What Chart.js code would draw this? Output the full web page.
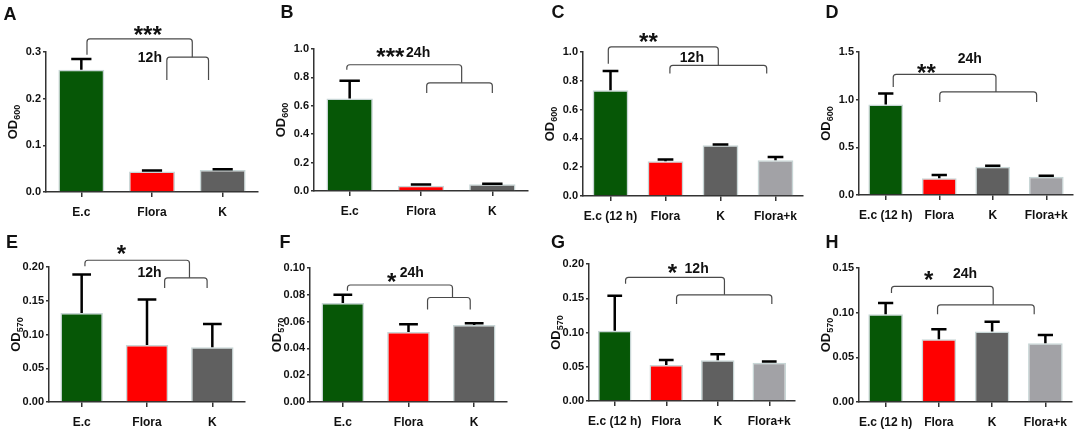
<!DOCTYPE html>
<html lang="en">
<head>
<meta charset="UTF-8">
<title>OD600 / OD570 bar panels</title>
<script src="https://cdn.jsdelivr.net/npm/chart.js@4.4.0/dist/chart.umd.min.js"></script>
<style>
  html, body { margin: 0; padding: 0; background: #fff; }
  #fig { position: relative; width: 1084px; height: 432px; overflow: hidden; }
  #fig canvas { position: absolute; }
</style>
</head>
<body>
<div id="fig"></div>
<script>
// categories
const labels3 = ['E.c', 'Flora', 'K'];
const labels4 = ['E.c (12 h)', 'Flora', 'K', 'Flora+k'];

// OD600 growth (A-D), means and upper error (SEM)
const odA = [0.262, 0.044, 0.047];
const semA = [0.023, 0.002, 0.0015];
const odB = [0.651, 0.037, 0.048];
const semB = [0.125, 0.008, 0.003];
const odC = [0.734, 0.241, 0.352, 0.248];
const semC = [0.134, 0.012, 0.005, 0.023];
const odD = [0.949, 0.175, 0.296, 0.191];
const semD = [0.115, 0.034, 0.011, 0.011];

// OD570 biofilm (E-H)
const odE = [0.132, 0.0845, 0.081];
const semE = [0.057, 0.0675, 0.0346];
const odF = [0.0738, 0.0523, 0.0575];
const semF = [0.0062, 0.0057, 0.0013];
const odG = [0.1025, 0.0527, 0.0596, 0.056];
const semG = [0.0512, 0.0073, 0.0087, 0.0016];
const odH = [0.0983, 0.0702, 0.0788, 0.0657];
const semH = [0.0124, 0.0112, 0.0109, 0.0093];

// y axis ranges: max, step, decimals
const yMaxes = [0.3, 1.0, 1.0, 1.5, 0.20, 0.10, 0.20, 0.15];
const ySteps = [0.1, 0.2, 0.2, 0.5, 0.05, 0.02, 0.05, 0.05];
const yDecimals = [1, 1, 1, 1, 2, 2, 2, 2];

const barColors = ['#065706', '#ff0000', '#606060', '#a2a2a6'];
const edgeColor = '#c8d6d6';
const FONT = '"Liberation Sans", Arial, sans-serif';
const PH = 232;

// bracket = [x1, x2, y, leftLegEnd, rightLegEnd] in category index / data units
const panels = [
  { letter: 'A', x: 0, y: 0, w: 270, box: [46, 258, 52, 192], lab: [10, 15], sub: '600',
    labels: labels3, values: odA, errors: semA,
    brackets: [[0.08, 1.57, 0.328, 0.294, 0.289], [1.21, 1.80, 0.289, 0.24, 0.24]],
    notes: [['***', 0.94, 0.347, 's'], ['12h', 0.97, 0.287, 'l']] },
  { letter: 'B', x: 270, y: 0, w: 270, box: [44, 258, 49, 191], lab: [17, 13], sub: '600',
    labels: labels3, values: odB, errors: semB,
    brackets: [[-0.04, 1.57, 0.889, 0.854, 0.762], [1.08, 2.0, 0.762, 0.69, 0.69]],
    notes: [['***', 0.57, 0.974, 's'], ['24h', 0.96, 0.974, 'l']] },
  { letter: 'C', x: 540, y: 0, w: 270, box: [43, 263, 52, 196], lab: [18, 13], sub: '600',
    labels: labels4, values: odC, errors: semC,
    brackets: [[-0.04, 1.96, 1.035, 0.919, 0.907], [1.08, 2.84, 0.907, 0.85, 0.85]],
    notes: [['**', 0.69, 1.104, 's'], ['12h', 1.48, 0.96, 'l']] },
  { letter: 'D', x: 810, y: 0, w: 274, box: [49, 263, 52, 195], lab: [22, 13], sub: '600',
    labels: labels4, values: odD, errors: semD,
    brackets: [[0.14, 2.06, 1.266, 1.133, 1.081], [1.01, 2.82, 1.081, 0.976, 0.976]],
    notes: [['**', 0.76, 1.325, 's'], ['24h', 1.57, 1.43, 'l']] },
  { letter: 'E', x: 0, y: 216, w: 270, box: [49, 245, 51, 186], lab: [12, 27], sub: '570',
    labels: labels3, values: odE, errors: semE,
    brackets: [[0.05, 1.65, 0.21, 0.201, 0.184], [1.27, 1.92, 0.184, 0.169, 0.169]],
    notes: [['*', 0.61, 0.226, 's'], ['12h', 1.04, 0.191, 'l']] },
  { letter: 'F', x: 270, y: 216, w: 270, box: [40, 237, 52, 186], lab: [15, 27], sub: '570',
    labels: labels3, values: odF, errors: semF,
    brackets: [[0.07, 1.67, 0.0873, 0.083, 0.078], [1.29, 1.94, 0.078, 0.069, 0.069]],
    notes: [['*', 0.745, 0.093, 's'], ['24h', 1.05, 0.0963, 'l']] },
  { letter: 'G', x: 540, y: 216, w: 270, box: [49, 255, 48, 185], lab: [18, 27], sub: '570',
    labels: labels4, values: odG, errors: semG,
    brackets: [[0.21, 2.13, 0.1805, 0.171, 0.155], [1.2, 3.05, 0.155, 0.1416, 0.1416]],
    notes: [['*', 1.12, 0.194, 's'], ['12h', 1.59, 0.193, 'l']] },
  { letter: 'H', x: 810, y: 216, w: 274, box: [49, 262, 52, 186], lab: [22, 27], sub: '570',
    labels: labels4, values: odH, errors: semH,
    brackets: [[0.11, 2.02, 0.1294, 0.122, 0.1088], [0.975, 2.79, 0.1088, 0.0983, 0.0983]],
    notes: [['*', 0.81, 0.1414, 's'], ['24h', 1.49, 0.1433, 'l']] }
];

function drawBracket(ctx, xs, ys, b) {
  const x1 = xs.getPixelForValue(b[0]), x2 = xs.getPixelForValue(b[1]);
  const y = ys.getPixelForValue(b[2]);
  const y1 = ys.getPixelForValue(b[3]), y2 = ys.getPixelForValue(b[4]);
  ctx.beginPath();
  ctx.moveTo(x1, y1);
  ctx.arcTo(x1, y, x2, y, 3);
  ctx.arcTo(x2, y, x2, y2, 3);
  ctx.lineTo(x2, y2);
  ctx.stroke();
}

function makePanel(p, k) {
  const cv = document.createElement('canvas');
  cv.width = p.w;
  cv.height = PH;
  cv.style.left = p.x + 'px';
  cv.style.top = p.y + 'px';
  document.getElementById('fig').appendChild(cv);

  // fixed scale box sizes so the plot area lands where the figure has it
  const YW = 30, XH = 32;

  const marks = {
    id: 'marks',
    afterDraw(chart) {
      const ctx = chart.ctx;
      const xs = chart.scales.x, ys = chart.scales.y;
      const area = chart.chartArea;
      ctx.save();

      // error bars (upper only)
      const meta = chart.getDatasetMeta(0);
      ctx.strokeStyle = '#000';
      ctx.lineWidth = 2.5;
      meta.data.forEach((bar, i) => {
        const top = ys.getPixelForValue(p.values[i] + p.errors[i]);
        const half = bar.width * 0.22;
        ctx.beginPath();
        ctx.moveTo(bar.x, bar.y);
        ctx.lineTo(bar.x, top);
        ctx.moveTo(bar.x - half, top);
        ctx.lineTo(bar.x + half, top);
        ctx.stroke();
      });

      // significance brackets
      ctx.strokeStyle = '#4a4a4a';
      ctx.lineWidth = 1.2;
      p.brackets.forEach(b => drawBracket(ctx, xs, ys, b));

      ctx.fillStyle = '#111';
      ctx.textAlign = 'center';
      p.notes.forEach(n => {
        const px = xs.getPixelForValue(n[1]);
        const py = ys.getPixelForValue(n[2]);
        if (n[3] === 's') {
          ctx.font = 'bold 24px ' + FONT;
          ctx.textBaseline = 'alphabetic';
          ctx.fillText(n[0], px, py + 0.52 * 24);
        } else {
          ctx.font = 'bold 14px ' + FONT;
          ctx.textBaseline = 'middle';
          ctx.fillText(n[0], px, py);
        }
      });

      // panel letter
      ctx.font = 'bold 18px ' + FONT;
      ctx.textBaseline = 'middle';
      ctx.fillText(p.letter, p.lab[0], p.lab[1]);

      // y axis title OD with subscript
      ctx.translate(area.left - 33, (area.top + area.bottom) / 2);
      ctx.rotate(-Math.PI / 2);
      ctx.font = 'bold 13px ' + FONT;
      const wMain = ctx.measureText('OD').width;
      ctx.font = 'bold 9px ' + FONT;
      const wSub = ctx.measureText(p.sub).width;
      const start = -(wMain + wSub) / 2;
      ctx.textAlign = 'left';
      ctx.textBaseline = 'alphabetic';
      ctx.font = 'bold 13px ' + FONT;
      ctx.fillText('OD', start, 4);
      ctx.font = 'bold 9px ' + FONT;
      ctx.fillText(p.sub, start + wMain, 7);
      ctx.restore();
    }
  };

  new Chart(cv, {
    type: 'bar',
    data: {
      labels: p.labels,
      datasets: [{
        data: p.values,
        backgroundColor: barColors.slice(0, p.labels.length),
        borderColor: edgeColor,
        borderWidth: 1.5,
        barPercentage: 0.65,
        categoryPercentage: 1
      }]
    },
    options: {
      responsive: false,
      animation: false,
      devicePixelRatio: 1,
      layout: {
        padding: {
          left: p.box[0] - YW,
          right: p.w - p.box[1],
          top: p.box[2],
          bottom: PH - p.box[3] - XH
        }
      },
      plugins: { legend: { display: false }, tooltip: { enabled: false } },
      scales: {
        x: {
          afterFit: s => { s.height = XH; },
          grid: { display: true, offset: false, drawOnChartArea: false, tickLength: 5, color: '#333', lineWidth: 1.5 },
          border: { color: '#333', width: 1.5 },
          ticks: { color: '#111', font: { family: FONT, size: 12, weight: 'bold' }, padding: 8, maxRotation: 0, autoSkip: false }
        },
        y: {
          min: 0,
          max: yMaxes[k],
          afterFit: s => { s.width = YW; },
          grid: { display: true, drawOnChartArea: false, tickLength: 3, color: '#333', lineWidth: 1.5 },
          border: { color: '#333', width: 1.5 },
          ticks: {
            stepSize: ySteps[k],
            padding: 2,
            color: '#111',
            font: { family: FONT, size: 11, weight: 'bold' },
            callback: v => Number(v).toFixed(yDecimals[k])
          }
        }
      }
    },
    plugins: [marks]
  });
}

panels.forEach(makePanel);
</script>
</body>
</html>
